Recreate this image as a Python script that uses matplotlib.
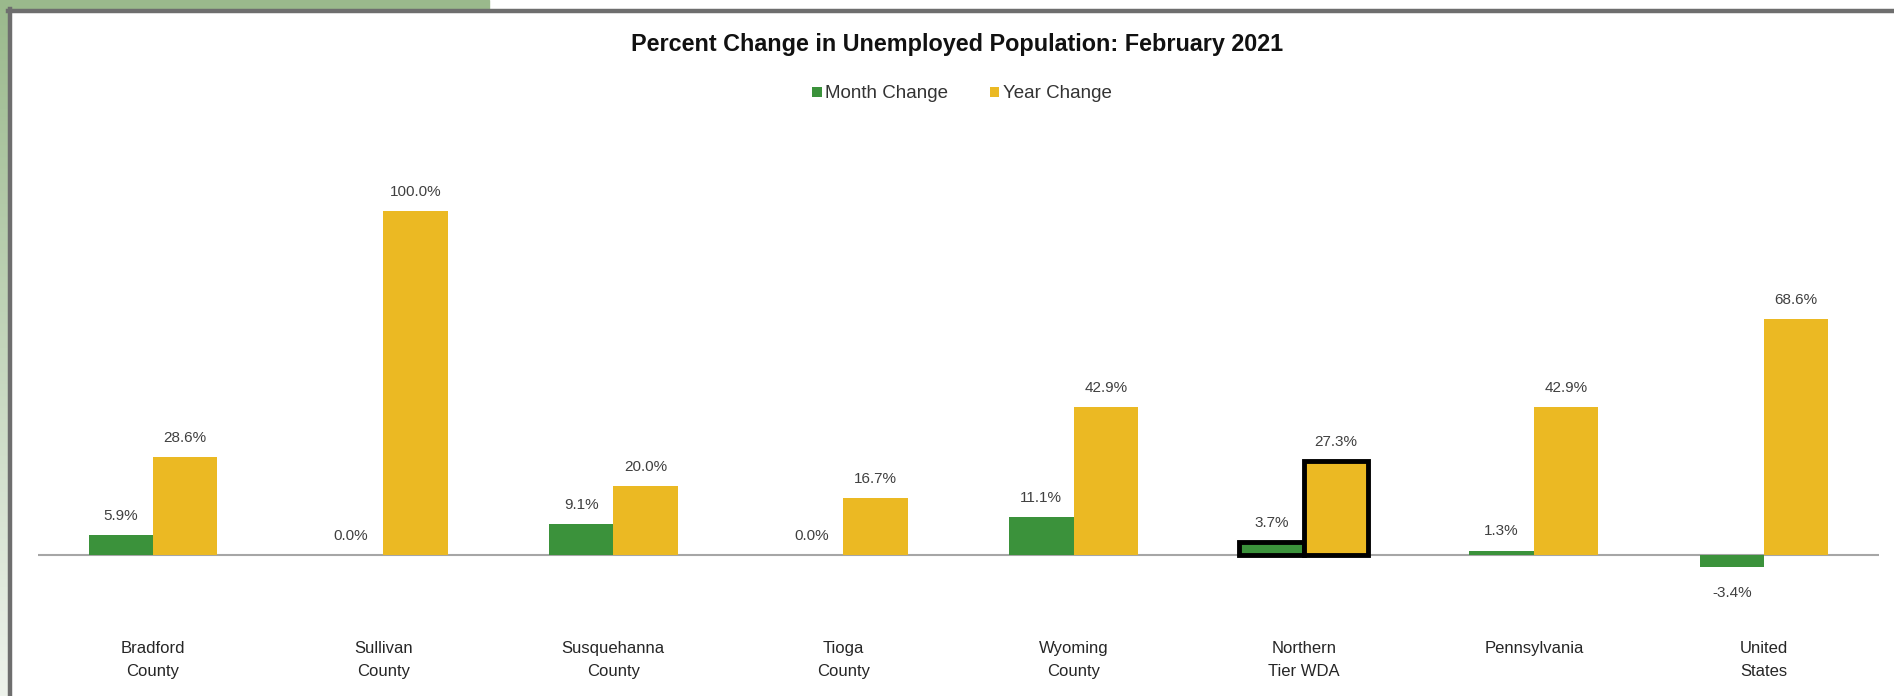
import numpy as np
import matplotlib.pyplot as plt
import matplotlib.patches as patches
from matplotlib.lines import Line2D
from matplotlib.colors import LinearSegmentedColormap

# data
regions = ["Bradford\nCounty", "Sullivan\nCounty", "Susquehanna\nCounty", "Tioga\nCounty",
           "Wyoming\nCounty", "Northern\nTier WDA", "Pennsylvania", "United\nStates"]
month_change = [5.9, 0.0, 9.1, 0.0, 11.1, 3.7, 1.3, -3.4]
year_change = [28.6, 100.0, 20.0, 16.7, 42.9, 27.3, 42.9, 68.6]
highlight = "Northern\nTier WDA"

green = "#3b923b"
yellow = "#ebb923"
W, H = 1894, 696

plt.rcParams['font.family'] = ['Liberation Sans', 'DejaVu Sans']

fig = plt.figure(figsize=(W / 100, H / 100), dpi=100)
fig.patch.set_facecolor("white")

# green page background peeking out at top-left, with fade down the left side
grad = np.linspace(0, 1, 256).reshape(-1, 1)
cmap = LinearSegmentedColormap.from_list("g", ["#9ab98c", "#eef3ec"])
bg = fig.add_axes([0, 0, 8 / W, 1])
bg.imshow(grad, aspect="auto", cmap=cmap, extent=[0, 1, 0, 1], origin="upper")
bg.axis("off")
fig.patches.append(patches.Rectangle((0, 1 - 9 / H), 489 / W, 9 / H, transform=fig.transFigure,
                                     color="#9ab98c", zorder=0))
# grey frame of the chart box
fig.lines.append(Line2D([8 / W, 1], [1 - 10.5 / H] * 2, transform=fig.transFigure,
                        color="#6e6e6e", lw=3.2))
fig.lines.append(Line2D([9.5 / W] * 2, [0, 1 - 9 / H], transform=fig.transFigure,
                        color="#6e6e6e", lw=3.2))

# plot area: zero line at y=555px, 3.44px per percent
ax_top, ax_bot, ax_left, ax_right = 130, 600, 38, 1879
ax = fig.add_axes([ax_left / W, 1 - ax_bot / H, (ax_right - ax_left) / W, (ax_bot - ax_top) / H])
ax.set_ylim(-(ax_bot - 555) / 3.44, (555 - ax_top) / 3.44)
ax.set_xlim(-0.5, len(regions) - 0.5)

x = np.arange(len(regions))
bw = 0.28
bm = ax.bar(x - bw / 2, month_change, bw, color=green, label="Month Change", zorder=2)
by = ax.bar(x + bw / 2, year_change, bw, color=yellow, label="Year Change", zorder=2)
for bars in (bm, by):
    for b, r in zip(bars, regions):
        if r == highlight:
            b.set_edgecolor("black")
            b.set_linewidth(3.5)
            b.set_zorder(3)

ax.axhline(0, color="#a6a6a6", lw=1.5, zorder=1)

for xi, v in zip(x, month_change):
    if v >= 0:
        ax.text(xi - bw / 2, v + 3.5, f"{v:.1f}%", ha="center", va="bottom",
                fontsize=11, color="#404040")
    else:
        ax.text(xi - bw / 2, v - 5.5, f"{v:.1f}%", ha="center", va="top",
                fontsize=11, color="#404040")
for xi, v in zip(x, year_change):
    ax.text(xi + bw / 2, v + 3.5, f"{v:.1f}%", ha="center", va="bottom",
            fontsize=11, color="#404040")

for s in ax.spines.values():
    s.set_visible(False)
ax.set_yticks([])
ax.set_xticks([])
for xi, r in zip(x, regions):
    fig.text((ax_left + (xi + 0.5) * (ax_right - ax_left) / len(regions)) / W, 1 - 641 / H, r,
             ha="center", va="top", fontsize=12, color="#262626", linespacing=1.65)

fig.text(957 / W, 1 - 45 / H, "Percent Change in Unemployed Population: February 2021",
         ha="center", va="center", fontsize=16.8, fontweight="bold", color="#111111")

leg = fig.legend(handles=[bm, by], loc="center", bbox_to_anchor=(962 / W, 1 - 94 / H),
                 ncol=2, frameon=False, fontsize=13.5, handlelength=0.5, handleheight=0.5,
                 handletextpad=0.2, columnspacing=2.2)
for t in leg.get_texts():
    t.set_color("#333333")

fig.savefig("out.png", dpi=100, facecolor="white")
